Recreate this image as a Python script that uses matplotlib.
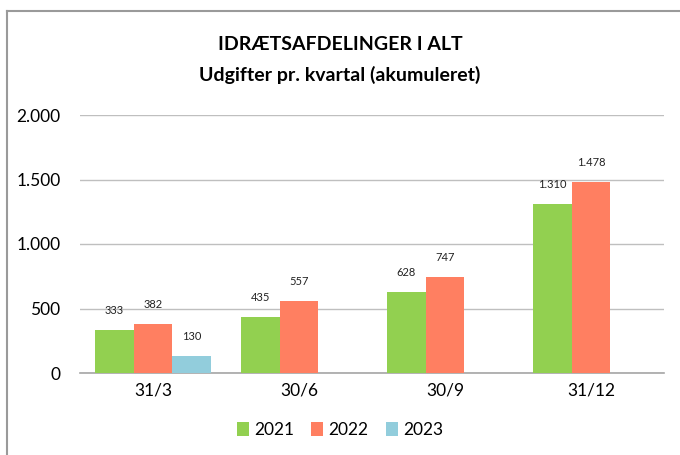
import matplotlib
matplotlib.use("Agg")
import matplotlib.pyplot as plt
import numpy as np
from matplotlib.lines import Line2D
from matplotlib.patches import Patch
from matplotlib import font_manager

names = sorted({f.name for f in font_manager.fontManager.ttflist})
print(names)

plt.rcParams['font.family'] = ['Lato', 'DejaVu Sans']

categories = ["31/3", "30/6", "30/9", "31/12"]
years = ["2021", "2022", "2023"]
v2021 = [333, 435, 628, 1310]
v2022 = [382, 557, 747, 1478]
v2023 = [130, None, None, None]
series = [v2021, v2022, v2023]
colors = ["#92D050", "#FF7F61", "#92CDDC"]

def fmt(v):
    return f"{v:,}".replace(",", ".")

fig = plt.figure(figsize=(6.8, 4.55), dpi=100)
ax = fig.add_axes([80/680, (455-373)/455, (664-80)/680, (373-115)/455])

x = np.arange(len(categories))
w = 0.8/3
for i, (vals, c) in enumerate(zip(series, colors)):
    for j, v in enumerate(vals):
        if v is None:
            continue
        xp = x[j] + (i-1)*w
        ax.bar(xp, v, width=w, color=c, zorder=3)
        ax.annotate(fmt(v), (xp, v), xytext=(0, 10), textcoords="offset points",
                    ha="center", va="bottom", fontsize=8, color="#222222")

ax.set_xlim(-0.5, len(categories)-0.5)
ax.set_ylim(0, 2000)
yt = [0, 500, 1000, 1500, 2000]
ax.set_yticks(yt)
ax.set_yticklabels([fmt(v) for v in yt], fontsize=12.5)
ax.set_xticks(x)
ax.set_xticklabels(categories, fontsize=12.5)
ax.tick_params(axis="both", length=0, pad=7)
ax.tick_params(axis="y", pad=14)
for s in ["left", "right", "top"]:
    ax.spines[s].set_visible(False)
ax.spines["bottom"].set_color("#A6A6A6")
ax.spines["bottom"].set_linewidth(1.2)
ax.yaxis.grid(True, color="#BFBFBF", linewidth=1.0, zorder=0)
ax.set_axisbelow(True)

fig.text(0.5, 1-45/455, "IDRÆTSAFDELINGER I ALT", ha="center", va="center",
         fontsize=14, fontweight="bold")
fig.text(0.5, 1-75/455, "Udgifter pr. kvartal (akumuleret)", ha="center", va="center",
         fontsize=14, fontweight="bold")

handles = [Patch(facecolor=c, edgecolor="none") for c in colors]
fig.legend(handles, years, loc="center", bbox_to_anchor=(0.5, 1-430/455), ncol=3,
           frameon=False, fontsize=12.5, handlelength=0.7, handleheight=0.8,
           handletextpad=0.3, columnspacing=1.0)

# outer border (left and top)
fig.add_artist(Line2D([7/680, 7/680], [0, 1-11/455], transform=fig.transFigure,
                      color="#9A9A9A", linewidth=1.5))
fig.add_artist(Line2D([7/680, 1], [1-11/455, 1-11/455], transform=fig.transFigure,
                      color="#9A9A9A", linewidth=1.5))

fig.savefig("out.png", dpi=100)
